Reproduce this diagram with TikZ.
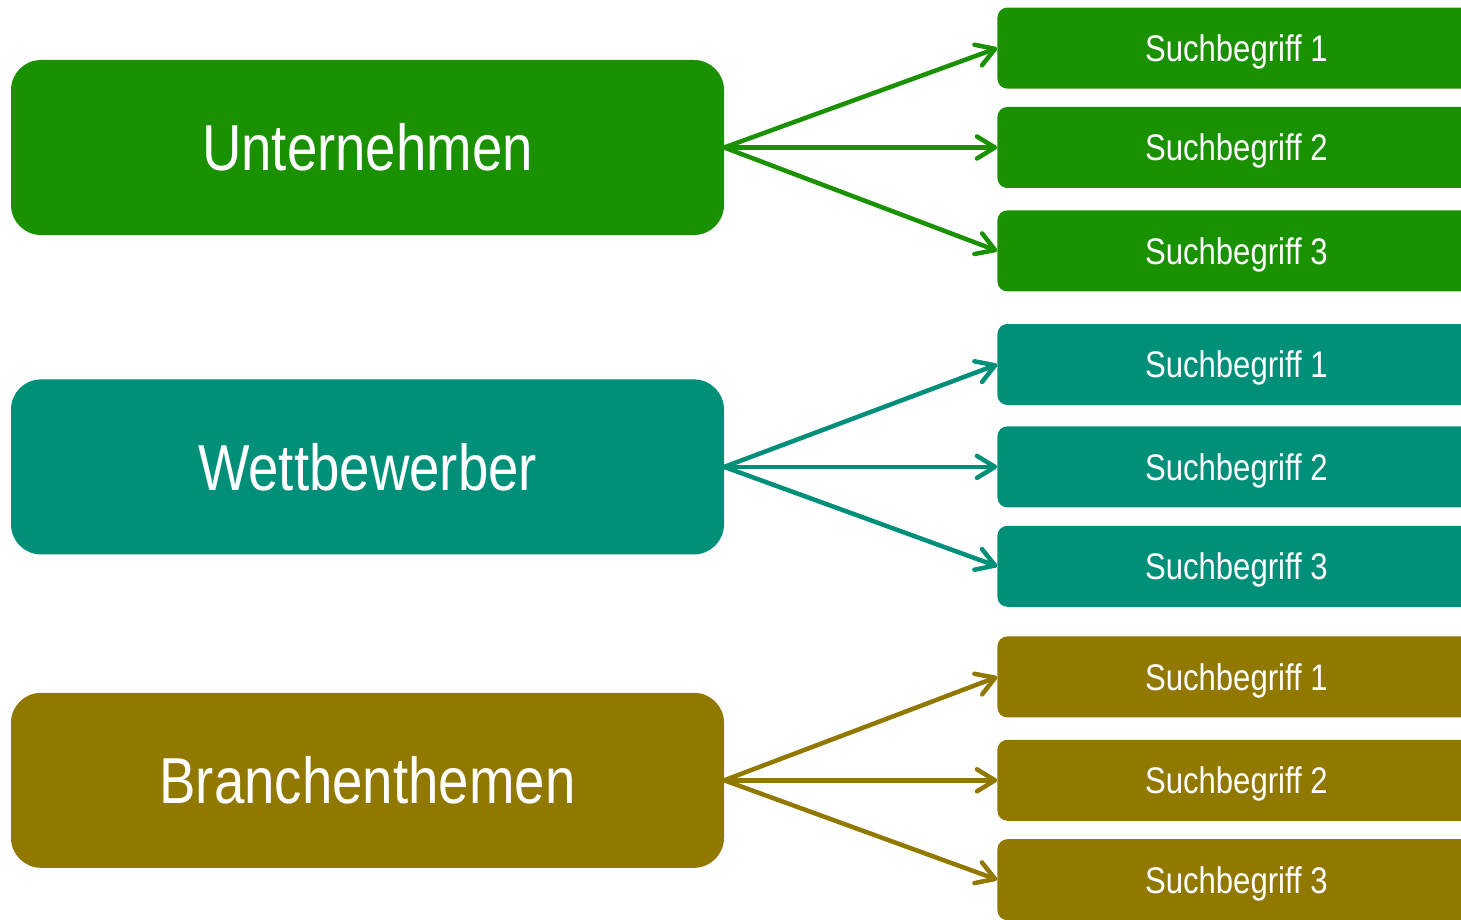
\documentclass[tikz,border=0pt]{standalone}
\usepackage{fontspec}
\setmainfont{Liberation Sans}[FakeStretch=0.84]
\usetikzlibrary{positioning,arrows.meta}
\definecolor{firmgreen}{HTML}{1A9100}
\definecolor{rivalteal}{HTML}{00907A}
\definecolor{sectorolive}{HTML}{917800}

\begin{document}
\begin{tikzpicture}[x=1pt,y=1pt,
groupnode/.style={rectangle, rounded corners=30pt, fill=#1, text=white, minimum width=713pt, minimum height=175pt, font=\fontsize{65}{70}\selectfont},
termnode/.style={rectangle, rounded corners=10pt, fill=#1, text=white, minimum width=478pt, minimum height=81pt, text depth=0pt, font=\fontsize{37}{40}\selectfont},
link/.style={draw=#1, line width=4.5pt, line cap=round, -{Straight Barb[length=18pt,width=22pt,round]}},
node distance=20pt,
]
\clip (0,0) rectangle (1461,-920);
%Nodes
\node[groupnode=firmgreen]      (firm)     at (367.5,-147.5)      {Unternehmen};
\node[groupnode=rivalteal]      (rival)    [below=144pt of firm]  {Wettbewerber};
\node[groupnode=sectorolive]    (sector)   [below=138pt of rival] {Branchenthemen};

\node[termnode=firmgreen]    (firm2)    [right=273pt of firm]   {Suchbegriff 2};
\node[termnode=firmgreen]    (firm1)    [above=18pt of firm2]   {Suchbegriff 1};
\node[termnode=firmgreen]    (firm3)    [below=22pt of firm2]   {Suchbegriff 3};
\node[termnode=rivalteal]    (rival2)   [right=273pt of rival]  {Suchbegriff 2};
\node[termnode=rivalteal]    (rival1)   [above=21pt of rival2]  {Suchbegriff 1};
\node[termnode=rivalteal]    (rival3)   [below=18pt of rival2]  {Suchbegriff 3};
\node[termnode=sectorolive]  (sector2)  [right=273pt of sector] {Suchbegriff 2};
\node[termnode=sectorolive]  (sector1)  [above=22pt of sector2] {Suchbegriff 1};
\node[termnode=sectorolive]  (sector3)  [below=18pt of sector2] {Suchbegriff 3};

%Lines
\foreach \g/\c in {firm/firmgreen, rival/rivalteal, sector/sectorolive}
  \foreach \i in {1,2,3}
    \draw[link=\c] (\g.east) -- (\g\i.west);
\end{tikzpicture}
\end{document}
